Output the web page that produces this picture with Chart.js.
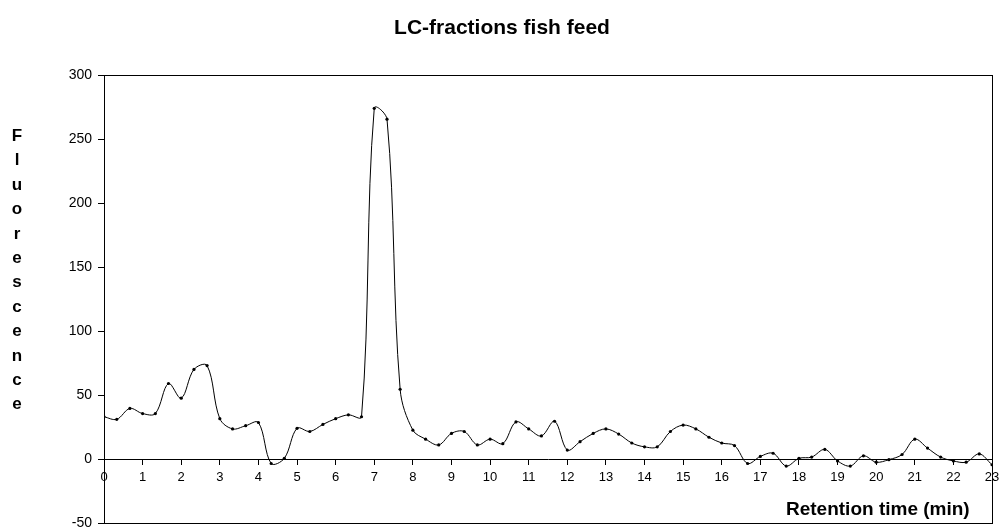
<!DOCTYPE html>
<html>
<head>
<meta charset="utf-8">
<title>LC-fractions fish feed</title>
<script src="https://cdn.jsdelivr.net/npm/chart.js@4/dist/chart.umd.min.js"></script>
<style>
  html, body { margin: 0; padding: 0; background: #fff; }
  #wrap { width: 1004px; height: 530px; }
</style>
</head>
<body>
<div id="wrap"><canvas id="chartLC" width="1004" height="530"></canvas></div>
<script>
// chart texts
const chartTitle = 'LC-fractions fish feed';
const xTitle = 'Retention time (min)';
const yTitle = 'Fluorescence';

// retention time (min), one fraction every 20 s
const retentionTimes = [
  0, 0.33, 0.67, 1, 1.33, 1.67, 2, 2.33, 2.67, 3,
  3.33, 3.67, 4, 4.33, 4.67, 5, 5.33, 5.67, 6, 6.33,
  6.67, 7, 7.33, 7.67, 8, 8.33, 8.67, 9, 9.33, 9.67,
  10, 10.33, 10.67, 11, 11.33, 11.67, 12, 12.33, 12.67, 13,
  13.33, 13.67, 14, 14.33, 14.67, 15, 15.33, 15.67, 16, 16.33,
  16.67, 17, 17.33, 17.67, 18, 18.33, 18.67, 19, 19.33, 19.67,
  20, 20.33, 20.67, 21, 21.33, 21.67, 22, 22.33, 22.67, 23
];

// fluorescence per fraction
const fluorescence = [
  33, 31, 39.5, 35.5, 35.5, 59, 47.5, 70, 73, 31.5,
  23.5, 26, 28.5, -3.5, 0.5, 24, 21.5, 27, 31.5, 34.5,
  33, 274, 265.5, 54.5, 22.5, 15.5, 11, 20, 21.5, 11,
  15.5, 12, 29, 23.5, 18, 29.5, 7, 13.5, 20, 23.5,
  19.5, 12.5, 9.5, 9.5, 21.5, 26.5, 23.5, 17, 12.5, 10.5,
  -3.5, 2, 4.5, -5.5, 0.5, 1.5, 7.5, -1.5, -5.5, 2.5,
  -2.5, -0.5, 3.5, 15.5, 8.5, 1.5, -1.5, -2.5, 4, -4.5
];

// axis ranges
const xMin = 0, xMax = 23, xStep = 1;
const yMin = -50, yMax = 300, yStep = 50;

const points = retentionTimes.map((t, i) => ({ x: t, y: fluorescence[i] }));

// frame round the plot area plus the titles
const framePlugin = {
  id: 'frameAndTitles',
  afterDraw(chart) {
    const ctx = chart.ctx;
    const a = chart.chartArea;
    ctx.save();
    ctx.strokeStyle = '#000';
    ctx.lineWidth = 1;
    ctx.strokeRect(Math.round(a.left) + 0.5, Math.round(a.top) + 0.5,
      Math.round(a.right - a.left), Math.round(a.bottom - a.top));

    ctx.fillStyle = '#000';
    ctx.textAlign = 'center';
    ctx.textBaseline = 'alphabetic';
    ctx.font = 'bold 21px "Liberation Sans", Arial, sans-serif';
    ctx.fillText(chartTitle, chart.width / 2, 34);

    // y title, one letter under the other
    ctx.font = 'bold 17px "Liberation Sans", Arial, sans-serif';
    const letters = yTitle.split('');
    letters.forEach((ch, i) => {
      ctx.fillText(ch, 17, 141 + i * 24.4);
    });

    // x title, bottom right inside the frame
    ctx.textAlign = 'left';
    ctx.font = 'bold 19px "Liberation Sans", Arial, sans-serif';
    ctx.fillText(xTitle, 786, 515);
    ctx.restore();
  }
};

const ctx = document.getElementById('chartLC').getContext('2d');
new Chart(ctx, {
  type: 'line',
  data: {
    datasets: [{
      label: 'fish feed',
      data: points,
      borderColor: '#000',
      backgroundColor: '#000',
      borderWidth: 1,
      pointRadius: 1.6,
      pointBorderWidth: 0,
      pointBackgroundColor: '#000',
      tension: 0.35,
      fill: false
    }]
  },
  options: {
    responsive: false,
    animation: false,
    devicePixelRatio: 1,
    layout: { padding: { top: 75, right: 12, bottom: 7, left: 0 } },
    plugins: {
      legend: { display: false },
      title: { display: false },
      tooltip: { enabled: false }
    },
    scales: {
      x: {
        type: 'linear',
        position: { y: 0 },
        min: xMin,
        max: xMax,
        afterFit(scale) {
          scale.paddingLeft = 0;
          scale.paddingRight = 0;
          scale.height = 0;
        },
        grid: { drawOnChartArea: false, drawTicks: true, tickLength: 5, color: '#000' },
        border: { display: true, color: '#000', width: 1 },
        ticks: {
          stepSize: xStep,
          padding: 6,
          color: '#000',
          maxRotation: 0,
          autoSkip: false,
          font: { family: '"Liberation Sans", Arial, sans-serif', size: 13 }
        }
      },
      y: {
        min: yMin,
        max: yMax,
        afterFit(scale) {
          scale.width = 104;
          scale.paddingTop = 0;
          scale.paddingBottom = 0;
        },
        grid: { drawOnChartArea: false, drawTicks: true, tickLength: 6, color: '#000' },
        border: { display: true, color: '#000', width: 1 },
        ticks: {
          stepSize: yStep,
          padding: 6,
          color: '#000',
          font: { family: '"Liberation Sans", Arial, sans-serif', size: 14 }
        }
      }
    }
  },
  plugins: [framePlugin]
});
</script>
</body>
</html>
